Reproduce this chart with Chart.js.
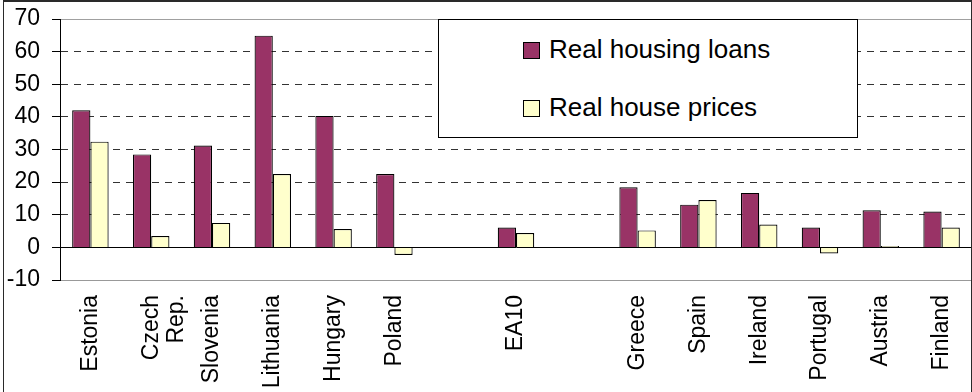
<!DOCTYPE html>
<html>
<head>
<meta charset="utf-8">
<script src="https://cdn.jsdelivr.net/npm/chart.js@4.4.1/dist/chart.umd.min.js"></script>
<style>
    body { margin: 0; background: #fff; overflow: hidden; }
    #wrap { position: relative; width: 972px; height: 392px; }
    #frame {
        position: absolute; left: 3px; top: 0; width: 967px; height: 400px;
        border-top: 2px solid #2a2a2a; border-left: 1px solid #2a2a2a; border-right: 1px solid #2a2a2a;
        pointer-events: none;
    }
    #legend {
        position: absolute; left: 438px; top: 19px; width: 418px; height: 117px;
        border: 1px solid #000; background: #fff;
        font-family: "Liberation Sans", Arial, sans-serif; font-size: 26px; color: #000;
    }
    .swatch { position: absolute; width: 15px; height: 15px; border: 1px solid #000; }
    .label { position: absolute; line-height: 26px; white-space: nowrap; }
</style>
</head>
<body>
<div id="wrap">
    <canvas id="housingChart" width="972" height="392"></canvas>
    <div id="legend"></div>
    <div id="frame"></div>
</div>
<script>
// Categories (blank slots are the gaps around EA10)
const categories = ['Estonia', ['Czech', 'Rep.'], 'Slovenia', 'Lithuania', 'Hungary', 'Poland', '', 'EA10', '', 'Greece', 'Spain', 'Ireland', 'Portugal', 'Austria', 'Finland'];

// Series values
const realHousingLoans = [42.0, 28.5, 31.2, 64.9, 40.3, 22.5, null, 6.1, null, 18.4, 13.1, 16.7, 6.1, 11.4, 11.0];
const realHousePrices = [32.4, 3.5, 7.5, 22.5, 5.6, -2.3, null, 4.4, null, 5.2, 14.5, 7.0, -1.9, 0.4, 6.1];

const seriesNames = ['Real housing loans', 'Real house prices'];
const yTicks = [-10, 0, 10, 20, 30, 40, 50, 60, 70];

const font = { family: '"Liberation Sans", Arial, sans-serif', size: 23 };

const ctx = document.getElementById('housingChart').getContext('2d');
const chart = new Chart(ctx, {
    type: 'bar',
    data: {
        labels: categories,
        datasets: [{
            label: seriesNames[0],
            data: realHousingLoans,
            backgroundColor: '#993366',
            borderColor: '#000',
            borderWidth: 1.2,
            categoryPercentage: 0.6,
            barPercentage: 1
        }, {
            label: seriesNames[1],
            data: realHousePrices,
            backgroundColor: '#FFFFCC',
            borderColor: '#000',
            borderWidth: 1.2,
            categoryPercentage: 0.6,
            barPercentage: 1
        }]
    },
    options: {
        responsive: false,
        animation: false,
        layout: { padding: { top: 19, left: 0, right: 0, bottom: 0 } },
        plugins: {
            legend: { display: false },
            tooltip: { enabled: false }
        },
        scales: {
            x: {
                grid: { display: false, drawTicks: false },
                border: { display: true, color: '#999', width: 1 },
                ticks: {
                    autoSkip: false,
                    maxRotation: 90,
                    minRotation: 90,
                    padding: 15,
                    color: '#000',
                    font: c => (c.index === 1 ? { ...font, lineHeight: 1.1 } : font)
                },
                afterFit: scale => {
                    scale.height = 112;
                    scale.paddingLeft = 0;
                    scale.paddingRight = 0;
                }
            },
            y: {
                min: yTicks[0],
                max: yTicks[yTicks.length - 1],
                afterBuildTicks: scale => { scale.ticks = yTicks.map(v => ({ value: v })); },
                grid: {
                    color: c => {
                        const v = c.tick && c.tick.value;
                        if (v === 0) return '#000';
                        if (v === -10 || v === 70) return '#a0a0a0';
                        return '#333';
                    },
                    tickColor: '#000',
                    tickLength: 8,
                    lineWidth: 1
                },
                border: {
                    display: true,
                    color: '#000',
                    width: 1,
                    dash: c => {
                        const v = c.tick && c.tick.value;
                        return (v !== undefined && v > -10 && v < 70 && v !== 0) ? [7, 6] : [];
                    }
                },
                ticks: {
                    padding: 12,
                    color: '#000',
                    font: font
                },
                afterFit: scale => {
                    scale.width = 60;
                    scale.paddingTop = 0;
                    scale.paddingBottom = 0;
                }
            }
        }
    }
});

// Boxed legend like the original, built from the chart's datasets
const legendEl = document.getElementById('legend');
chart.data.datasets.forEach((ds, i) => {
    const top = 22 + i * 58;
    legendEl.innerHTML += `
        <div class="swatch" style="left:84px; top:${top}px; background:${ds.backgroundColor}"></div>
        <div class="label" style="left:110px; top:${top - 6}px">${ds.label}</div>
    `;
});
</script>
</body>
</html>
